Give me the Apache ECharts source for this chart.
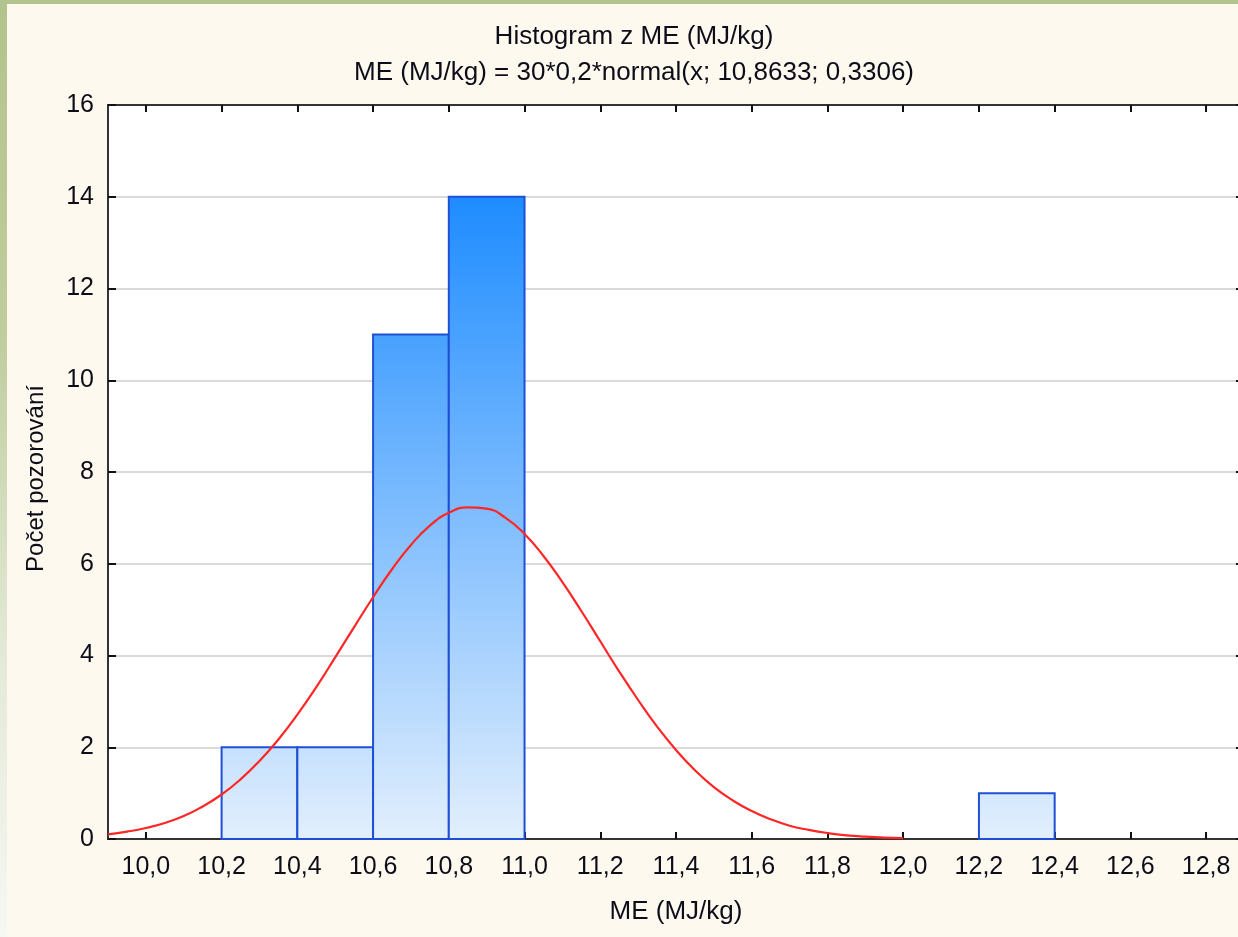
<!DOCTYPE html>
<html>
<head>
<meta charset="utf-8">
<script src="https://cdn.jsdelivr.net/npm/echarts@6/dist/echarts.min.js"></script>
<style>
html,body{margin:0;padding:0;background:#fef9ee;}
#chart{width:1238px;height:937px;}
</style>
</head>
<body>
<div id="chart"></div>
<script>
// Histogram bins (MJ/kg) and observed counts
const binStart = [10.2, 10.4, 10.6, 10.8, 12.2];
const binEnd   = [10.4, 10.6, 10.8, 11.0, 12.4];
const counts   = [2, 2, 11, 14, 1];

// Fitted normal curve
const curveX = [9.90, 9.95, 10.00, 10.05, 10.10, 10.15, 10.20, 10.25, 10.30, 10.35, 10.40, 10.45, 10.50, 10.55, 10.60, 10.65, 10.70, 10.75, 10.80, 10.85, 10.90, 10.95, 11.00, 11.05, 11.10, 11.15, 11.20, 11.25, 11.30, 11.35, 11.40, 11.45, 11.50, 11.55, 11.60, 11.65, 11.70, 11.75, 11.80, 11.85, 11.90, 11.95, 12.00];
const curveY = [0.10, 0.16, 0.24, 0.35, 0.50, 0.71, 0.97, 1.30, 1.70, 2.17, 2.71, 3.31, 3.96, 4.62, 5.27, 5.88, 6.41, 6.83, 7.11, 7.23, 7.20, 7.00, 6.65, 6.17, 5.60, 4.97, 4.31, 3.65, 3.03, 2.45, 1.94, 1.50, 1.13, 0.84, 0.61, 0.43, 0.29, 0.20, 0.13, 0.08, 0.05, 0.03, 0.02];

// Axis tick labels
const xTicks = [10.0, 10.2, 10.4, 10.6, 10.8, 11.0, 11.2, 11.4, 11.6, 11.8, 12.0, 12.2, 12.4, 12.6, 12.8];
const xMin = 9.9, xMax = 12.9;
const yMin = 0, yMax = 16, yStep = 2;

const titleLine1 = 'Histogram z ME (MJ/kg)';
const titleLine2 = 'ME (MJ/kg) = 30*0,2*normal(x; 10,8633; 0,3306)';
const xName = 'ME (MJ/kg)';
const yName = 'Počet pozorování';

const FONT = '"Liberation Sans", Arial, sans-serif';
const TXT = '#0d0d1a';
const chart = echarts.init(document.getElementById('chart'), null, {renderer: 'canvas'});
const maxCount = Math.max.apply(null, counts);
const fmt = v => v.toFixed(1).replace('.', ',');

const tickCommon = {show: true, inside: true, length: 7, lineStyle: {color: '#111', width: 2}};

chart.setOption({
  backgroundColor: '#fef9ee',
  animation: false,
  graphic: [
    {type: 'rect', left: 0, top: 0, shape: {width: 1238, height: 4}, style: {fill: '#b3c38d'}, z: 100},
    {type: 'rect', left: 0, top: 0, shape: {width: 7, height: 937},
      style: {fill: new echarts.graphic.LinearGradient(0, 0, 0, 1, [
        {offset: 0, color: '#b3c38d'}, {offset: 0.35, color: '#bfcc9c'},
        {offset: 0.7, color: '#e4e9d7'}, {offset: 1, color: '#f7f7f3'}])}, z: 100},
    {type: 'text', x: 634, y: 37, style: {text: titleLine1, font: '26px ' + FONT, fill: TXT, textAlign: 'center', textVerticalAlign: 'middle'}},
    {type: 'text', x: 634, y: 73, style: {text: titleLine2, font: '26px ' + FONT, fill: TXT, textAlign: 'center', textVerticalAlign: 'middle'}}
  ],
  grid: {left: 108, top: 105, width: 1136, height: 734, show: true, backgroundColor: '#ffffff', borderColor: '#333', borderWidth: 2, outerBoundsMode: 'none', containLabel: false},
  xAxis: [
    {type: 'value', position: 'bottom', min: xMin, max: xMax,
      name: xName, nameLocation: 'middle', nameGap: 60,
      nameTextStyle: {fontFamily: FONT, fontSize: 26, color: TXT},
      axisLine: {show: true, onZero: false, lineStyle: {color: '#333', width: 2}},
      axisTick: Object.assign({customValues: xTicks}, tickCommon),
      axisLabel: {customValues: xTicks, formatter: fmt, margin: 16, fontFamily: FONT, fontSize: 25, color: TXT},
      splitLine: {show: false}},
    {type: 'value', position: 'top', min: xMin, max: xMax,
      axisLine: {show: true, onZero: false, lineStyle: {color: '#333', width: 2}},
      axisTick: Object.assign({customValues: xTicks}, tickCommon),
      axisLabel: {show: false}, splitLine: {show: false}}
  ],
  yAxis: [
    {type: 'value', position: 'left', min: yMin, max: yMax, interval: yStep,
      name: yName, nameLocation: 'middle', nameGap: 60, nameRotate: 90,
      nameTextStyle: {fontFamily: FONT, fontSize: 24, color: TXT, padding: [0, 13, 0, 0]},
      axisLine: {show: true, onZero: false, lineStyle: {color: '#333', width: 2}},
      axisTick: Object.assign({}, tickCommon, {length: 8}),
      axisLabel: {margin: 14, fontFamily: FONT, fontSize: 25, color: TXT},
      splitLine: {show: true, lineStyle: {color: '#dadada', width: 2}}},
    {type: 'value', position: 'right', min: yMin, max: yMax, interval: yStep,
      axisLine: {show: true, onZero: false, lineStyle: {color: '#333', width: 2}},
      axisTick: Object.assign({}, tickCommon, {length: 8}),
      axisLabel: {show: false}, splitLine: {show: false}}
  ],
  series: [
    {type: 'custom', xAxisIndex: 0, yAxisIndex: 0, z: 2,
      data: binStart.map((s, i) => [s, binEnd[i], counts[i]]),
      encode: {x: [0, 1], y: 2},
      renderItem: function (params, api) {
        const p0 = api.coord([api.value(0), 0]);
        const p1 = api.coord([api.value(1), api.value(2)]);
        const topY = api.coord([api.value(0), maxCount])[1];
        return {
          type: 'rect',
          shape: {x: p0[0], y: p1[1], width: p1[0] - p0[0], height: p0[1] - p1[1]},
          style: {
            fill: new echarts.graphic.LinearGradient(0, topY, 0, p0[1], [
              {offset: 0, color: '#1e8cff'}, {offset: 1, color: '#e2effd'}], true),
            stroke: '#1f4fd6', lineWidth: 2
          }
        };
      }},
    {type: 'line', xAxisIndex: 0, yAxisIndex: 0, z: 3,
      data: curveX.map((x, i) => [x, curveY[i]]),
      smooth: true, symbol: 'none', silent: true,
      lineStyle: {color: '#ff2626', width: 2.2}}
  ]
});
</script>
</body>
</html>
